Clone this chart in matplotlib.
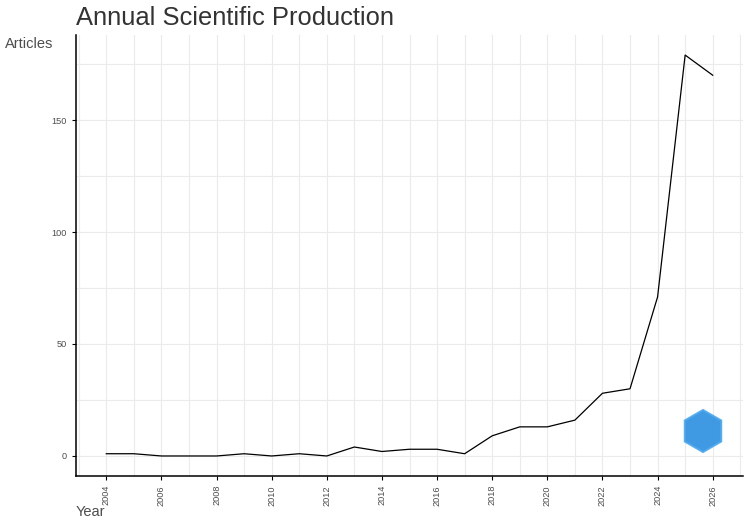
import numpy as np
import matplotlib.pyplot as plt
from matplotlib.patches import RegularPolygon

plt.rcParams['font.family'] = ['Liberation Sans', 'DejaVu Sans']

years = list(range(2004, 2027))
articles = [1, 1, 0, 0, 0, 1, 0, 1, 0, 4, 2, 3, 3, 1, 9, 13, 13, 16, 28, 30, 71, 179, 170]

fig = plt.figure(figsize=(7.5, 5.25), dpi=100)
ax = fig.add_axes([0.1013, 0.0933, 0.8894, 0.84])

ax.plot(years, articles, color='black', lw=0.9)

ax.set_xlim(2002.9, 2027.1)
ax.set_ylim(-8.95, 187.95)
ax.set_xticks(np.arange(2004, 2027, 2))
ax.set_xticks(np.arange(2003, 2028, 1), minor=True)
ax.set_yticks([0, 50, 100, 150])
ax.set_yticks([25, 75, 125, 175], minor=True)
ax.grid(True, which='both', color='#ebebeb', lw=0.8)
ax.set_axisbelow(True)
ax.tick_params(axis='x', labelrotation=90, labelsize=6.6, colors='#4d4d4d', length=3)
ax.tick_params(axis='y', labelsize=6.6, colors='#4d4d4d', length=3)
ax.tick_params(which='minor', length=0)
ax.tick_params(axis='both', color='black')
for s in ['top', 'right']:
    ax.spines[s].set_visible(False)
for s in ['left', 'bottom']:
    ax.spines[s].set_linewidth(1.1)

fig.text(0.101, 0.966, 'Annual Scientific Production', fontsize=18.4, color='#333333',
         ha='left', va='center')
fig.text(0.007, 0.916, 'Articles', fontsize=10.5, color='#4d4d4d', ha='left', va='center')
fig.text(0.101, 0.025, 'Year', fontsize=10.5, color='#4d4d4d', ha='left', va='center')

# watermark logo (pixel coords, pointy-top hexagon)
hexagon = RegularPolygon((703, 525 - 431), numVertices=6, radius=21,
                         orientation=0, transform=None,
                         facecolor='#2a8fe0', edgecolor='#4aa8f0', lw=1.5, alpha=0.9)
fig.patches.append(hexagon)

fig.savefig('out.png', dpi=100)
